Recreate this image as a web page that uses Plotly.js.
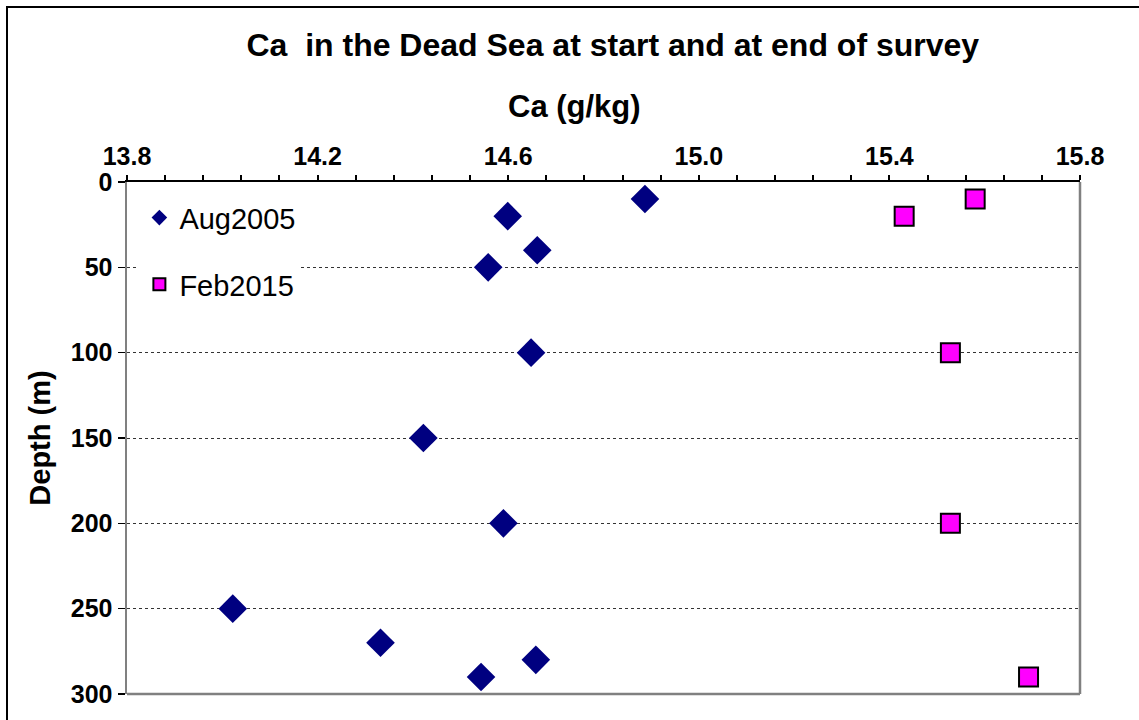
<!DOCTYPE html>
<html>
<head>
<meta charset="utf-8">
<script src="https://cdn.plot.ly/plotly-3.0.1.min.js"></script>
<style>
  body { margin: 0; background: #fff; }
  #graph { position: absolute; left: 0; top: 0; width: 1139px; height: 720px; }
  #frame { position: absolute; left: 6px; top: 6px; width: 1200px; height: 800px;
           border: 2px solid #000; pointer-events: none; }
</style>
</head>
<body>
<div id="graph"></div>
<div id="frame"></div>
<script>
// Aug 2005 survey
const depthAug = [10, 20, 40, 50, 100, 150, 200, 250, 270, 280, 290];
const caAug = [14.887, 14.599, 14.661, 14.558, 14.648, 14.422, 14.59, 14.022, 14.332, 14.658, 14.543];

// Feb 2015 survey
const depthFeb = [10, 20, 100, 200, 290];
const caFeb = [15.58, 15.431, 15.528, 15.528, 15.692];

const xTicks = [13.8, 14.2, 14.6, 15.0, 15.4, 15.8];
const xTickText = ['13.8', '14.2', '14.6', '15.0', '15.4', '15.8'];
const yTicks = [0, 50, 100, 150, 200, 250, 300];

const font = 'Liberation Sans, Arial, sans-serif';

const aug = {
    x: caAug,
    y: depthAug,
    mode: 'markers',
    type: 'scatter',
    name: 'Aug2005',
    legendgroup: 'a',
    marker: { symbol: 'diamond', size: 22, color: '#000080' }
};

const feb = {
    x: caFeb,
    y: depthFeb,
    mode: 'markers',
    type: 'scatter',
    name: 'Feb2015',
    legendgroup: 'b',
    marker: { symbol: 'square', size: 19, color: '#ff00ff', line: { color: '#000', width: 2 } }
};

const layout = {
    width: 1139,
    height: 720,
    margin: { l: 127, r: 59, t: 182, b: 26 },
    paper_bgcolor: '#fff',
    plot_bgcolor: '#fff',
    font: { family: font, color: '#000' },
    title: {
        text: 'Ca\u00a0 in the Dead Sea at start and at end of survey',
        font: { family: font, size: 32, weight: 'bold', color: '#000' },
        x: 0.538, xref: 'container', xanchor: 'center',
        y: 1 - 45 / 720, yref: 'container', yanchor: 'middle'
    },
    xaxis: {
        side: 'top',
        range: [13.8, 15.8],
        tickvals: xTicks,
        ticktext: xTickText,
        ticks: 'outside',
        ticklen: 5,
        tickwidth: 2,
        tickcolor: '#000',
        minor: { dtick: 0.08, tick0: 13.8, ticks: 'outside', ticklen: 5, tickwidth: 2, tickcolor: '#000', showgrid: false },
        showline: true,
        linecolor: '#000',
        linewidth: 2,
        showgrid: false,
        zeroline: false,
        tickfont: { family: font, size: 25, weight: 'bold', color: '#000' }
    },
    yaxis: {
        range: [300, 0],
        tickvals: yTicks,
        ticks: 'outside',
        ticklen: 7,
        tickwidth: 1.5,
        tickcolor: '#000',
        showline: true,
        linecolor: '#808080',
        linewidth: 2.5,
        showgrid: true,
        gridcolor: '#333',
        gridwidth: 1,
        griddash: 'dot',
        zeroline: false,
        tickfont: { family: font, size: 25, weight: 'bold', color: '#000' },
        title: {
            text: 'Depth (m)',
            font: { family: font, size: 29, weight: 'bold', color: '#000' },
            standoff: 12
        }
    },
    // x axis title sits left of the plot centre in the original
    annotations: [{
        text: 'Ca (g/kg)',
        xref: 'paper', yref: 'paper',
        x: 0.47, y: 1.1465,
        xanchor: 'center', yanchor: 'middle',
        showarrow: false,
        font: { family: font, size: 31, weight: 'bold', color: '#000' }
    }],
    shapes: [
        { type: 'line', xref: 'paper', yref: 'paper', x0: 0, x1: 1, y0: 0, y1: 0, line: { color: '#808080', width: 2.5 } },
        { type: 'line', xref: 'paper', yref: 'paper', x0: 1, x1: 1, y0: 0, y1: 1, line: { color: '#808080', width: 2.5 } }
    ],
    showlegend: true,
    legend: {
        x: 0.013, xanchor: 'left',
        y: 0.98, yanchor: 'top',
        bgcolor: '#fff',
        borderwidth: 0,
        itemsizing: 'constant',
        tracegroupgap: 26,
        entrywidth: 230,
        font: { family: font, size: 29, color: '#000' }
    }
};

Plotly.newPlot('graph', [aug, feb], layout, { displayModeBar: false, staticPlot: true });
</script>
</body>
</html>
